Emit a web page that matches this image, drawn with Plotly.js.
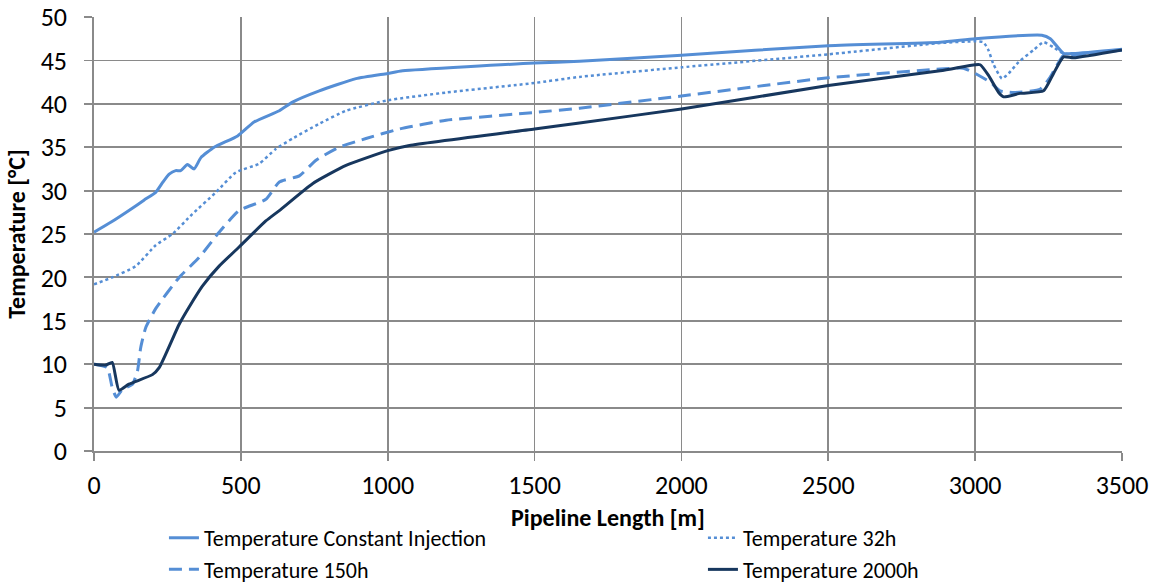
<!DOCTYPE html>
<html><head><meta charset="utf-8">
<script src="https://cdn.plot.ly/plotly-3.0.1.min.js"></script>
<style>body{margin:0;background:#fff}#chart{width:1154px;height:583px}</style>
</head><body><div id="chart"></div>
<script>
// Pipeline length (m) and temperature (°C) for each series
const constX = [0, 60, 119, 170, 210, 235, 256, 278, 295, 318, 341, 364, 409, 489, 545, 631, 676, 767, 892, 1000, 1051, 1500, 1653, 2000, 2500, 2881, 3000, 3227, 3256, 3301, 3335, 3500];
const constY = [25.2, 26.4, 27.7, 28.9, 29.8, 31.0, 31.9, 32.3, 32.3, 33.0, 32.5, 33.8, 35.0, 36.3, 37.9, 39.2, 40.2, 41.5, 42.9, 43.5, 43.8, 44.7, 44.9, 45.6, 46.7, 47.1, 47.5, 47.9, 47.5, 45.8, 45.8, 46.3];

const h32X = [0, 62, 142, 210, 267, 335, 415, 483, 562, 619, 676, 767, 858, 1000, 1199, 1500, 1653, 2000, 2500, 2881, 3000, 3028, 3045, 3062, 3091, 3114, 3148, 3199, 3233, 3267, 3301, 3335, 3500];
const h32Y = [19.2, 20.0, 21.3, 23.7, 25.0, 27.3, 29.8, 32.1, 33.1, 34.8, 36.0, 37.7, 39.2, 40.4, 41.3, 42.4, 43.1, 44.2, 45.7, 47.0, 47.2, 47.1, 46.2, 44.6, 42.9, 43.5, 44.8, 46.2, 47.1, 46.5, 45.8, 45.7, 46.2];

const h150X = [0, 45, 62, 76, 97, 131, 148, 159, 176, 210, 290, 358, 426, 494, 585, 631, 699, 756, 835, 926, 1040, 1199, 1500, 1653, 2000, 2500, 2881, 2960, 3000, 3051, 3085, 3131, 3222, 3256, 3301, 3335, 3500];
const h150Y = [10.0, 9.6, 7.3, 6.2, 7.1, 7.7, 9.2, 11.9, 14.2, 16.4, 20.0, 22.3, 25.2, 27.7, 29.0, 31.0, 31.7, 33.5, 35.0, 36.0, 37.1, 38.1, 39.0, 39.5, 40.9, 43.0, 44.0, 44.1, 43.5, 42.5, 41.5, 41.3, 41.7, 43.1, 45.6, 45.6, 46.2];

const h2000X = [0, 40, 62, 85, 119, 199, 222, 290, 324, 369, 426, 494, 585, 631, 744, 858, 1000, 1074, 1500, 1653, 2000, 2500, 2881, 3000, 3017, 3045, 3080, 3097, 3153, 3233, 3267, 3301, 3335, 3500];
const h2000Y = [10.0, 9.9, 10.2, 7.0, 7.7, 8.8, 9.6, 14.6, 16.6, 19.0, 21.3, 23.5, 26.5, 27.7, 30.8, 32.9, 34.6, 35.2, 37.1, 37.8, 39.4, 42.1, 43.8, 44.5, 44.5, 43.3, 41.3, 40.8, 41.2, 41.5, 43.5, 45.4, 45.3, 46.2];

const seriesNames = ['Temperature Constant Injection', 'Temperature 32h', 'Temperature 150h', 'Temperature 2000h'];
const xTicks = [0, 500, 1000, 1500, 2000, 2500, 3000, 3500];
const yTicks = [0, 5, 10, 15, 20, 25, 30, 35, 40, 45, 50];

const light = '#558ed5', dark = '#17375e';
const traces = [
  {x: constX, y: constY, name: seriesNames[0], mode: 'lines', line: {color: light, width: 3, shape: 'spline', smoothing: 0.5}},
  {x: h32X, y: h32Y, name: seriesNames[1], mode: 'lines', line: {color: light, width: 2.5, dash: 'dot', shape: 'spline', smoothing: 0.5}},
  {x: h150X, y: h150Y, name: seriesNames[2], mode: 'lines', line: {color: light, width: 3, dash: '13px,7px', shape: 'spline', smoothing: 0.5}},
  {x: h2000X, y: h2000Y, name: seriesNames[3], mode: 'lines', line: {color: dark, width: 3, shape: 'spline', smoothing: 0.5}}
];
const font = 'Carlito, Calibri, Lato, sans-serif';
const grid = '#8a8a8a';
const layout = {
  width: 1154, height: 583,
  margin: {l: 94, r: 32, t: 17, b: 132, autoexpand: false},
  paper_bgcolor: '#fff', plot_bgcolor: '#fff',
  font: {family: font, size: 26, color: '#000'},
  showlegend: true,
  legend: {orientation: 'h', x: -0.002, xanchor: 'left', y: -0.152, yanchor: 'top',
    indentation: 72, entrywidth: 422, entrywidthmode: 'pixels',
    font: {size: 22, family: font}, tracegroupgap: 0},
  xaxis: {range: [0, 3500], tickvals: xTicks, ticktext: xTicks.map(String),
    showgrid: true, gridcolor: grid, gridwidth: 1.8, zeroline: false,
    showline: true, linecolor: grid, linewidth: 1.8,
    ticks: 'outside', ticklen: 8, tickwidth: 1.8, tickcolor: grid, ticklabelstandoff: 2,
    title: {text: '<b>Pipeline Length [m]</b>', font: {size: 24, family: font}, standoff: 9}},
  yaxis: {range: [0, 50], tickvals: yTicks, ticktext: yTicks.map(String),
    showgrid: true, gridcolor: grid, gridwidth: 1.8, zeroline: false,
    showline: true, linecolor: grid, linewidth: 1.8,
    ticks: 'outside', ticklen: 8, tickwidth: 1.8, tickcolor: grid, ticklabelstandoff: 12,
    title: {text: '<b>Temperature [°C]</b>', font: {size: 24, family: font}, standoff: 8}}
};
Plotly.newPlot('chart', traces, layout, {displayModeBar: false, staticPlot: true});
</script></body></html>
